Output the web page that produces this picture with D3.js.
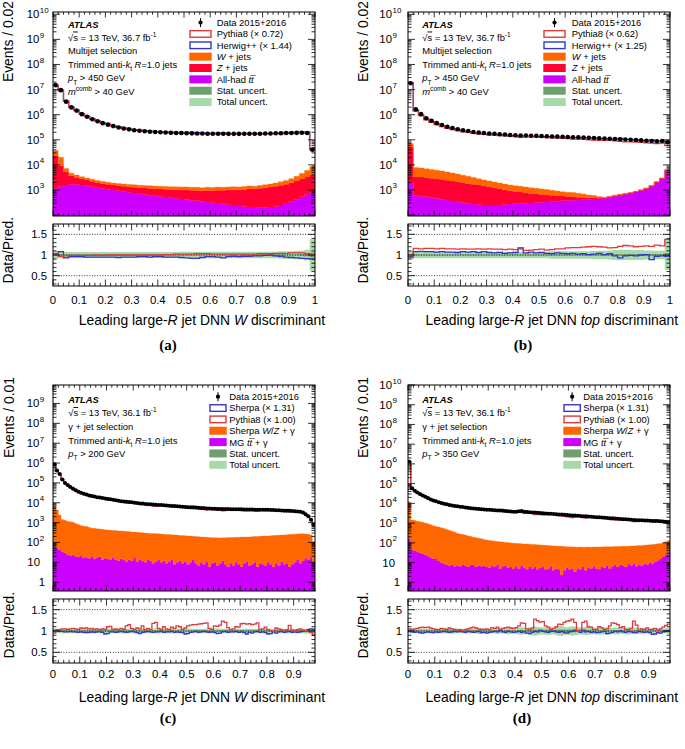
<!DOCTYPE html>
<html><head><meta charset="utf-8">
<script src="https://cdn.jsdelivr.net/npm/d3@7"></script>
<style>body{margin:0;background:#fff}svg{display:block}</style>
</head><body><script>
// ---------------- DATA ----------------
const ratioTicks = [0.5, 1, 1.5];
const xTicksAB = [0,0.1,0.2,0.3,0.4,0.5,0.6,0.7,0.8,0.9,1];
const xTicksCD = [0,0.1,0.2,0.3,0.4,0.5,0.6,0.7,0.8,0.9];

// (a) W discriminant, multijet, 50 bins of 0.02
const aData = [1.5e7,9.5e6,3.3e6,1.95e6,1.45e6,1.05e6,8.3e5,6.6e5,5.5e5,4.6e5,4.0e5,3.5e5,3.1e5,2.8e5,2.6e5,2.4e5,2.3e5,2.2e5,2.1e5,2.05e5,2.0e5,1.95e5,1.9e5,1.86e5,1.85e5,1.82e5,1.8e5,1.78e5,1.77e5,1.75e5,1.74e5,1.73e5,1.73e5,1.72e5,1.72e5,1.72e5,1.73e5,1.73e5,1.74e5,1.75e5,1.77e5,1.79e5,1.81e5,1.83e5,1.85e5,1.87e5,1.89e5,1.9e5,1.86e5,4.0e4];
const aTtbar = [1120,1410,1580,1700,1660,1580,1480,1350,1260,1150,1070,1000,930,870,810,760,710,660,620,590,550,520,490,470,440,420,390,370,350,330,310,300,280,260,250,230,220,210,210,200,200,210,220,250,300,350,430,540,680,790];
const aZjets = [21300,7920,3670,2020,1500,1240,1030,890,740,670,630,580,550,540,540,530,520,540,530,530,550,550,560,550,560,580,590,580,580,620,640,680,700,740,770,790,830,890,910,970,1030,1110,1190,1300,1400,1600,1860,2210,2630,3380];
const aWjets = [14800,10600,1990,960,820,570,510,450,400,370,340,330,340,330,310,330,320,310,330,330,310,310,300,330,320,320,310,340,300,340,310,340,310,320,330,300,330,350,290,340,390,420,500,590,700,870,1260,1820,2720,4340];
const aPythiaRatio = [1.03,0.97,0.98,0.99,0.99,0.99,0.99,0.99,1.0,0.99,1.0,1.0,1.0,1.0,1.0,1.0,1.0,1.0,1.0,1.0,1.0,1.01,1.01,1.02,1.02,1.02,1.02,1.03,1.03,1.03,1.02,1.02,1.02,1.02,1.02,1.02,1.02,1.02,1.02,1.03,1.03,1.03,1.04,1.04,1.04,1.05,1.05,1.05,1.03,1.0];
const aHerwigRatio = [1.02,1.08,0.93,0.96,0.96,0.96,0.95,0.95,0.95,0.95,0.95,0.95,0.94,0.95,0.95,0.95,0.96,0.96,0.95,0.96,0.96,0.95,0.95,0.95,0.94,0.93,0.92,0.92,0.94,0.96,0.96,0.95,0.93,0.96,0.97,0.96,0.97,0.97,0.98,0.98,0.99,1.0,0.98,0.97,0.95,0.94,0.93,0.92,0.91,0.9];
const aTotUnc = [0.1,0.08,0.07,0.07,0.07,0.07,0.07,0.07,0.07,0.07,0.07,0.07,0.07,0.07,0.07,0.07,0.07,0.07,0.07,0.07,0.07,0.07,0.07,0.07,0.08,0.08,0.08,0.08,0.08,0.08,0.08,0.08,0.08,0.08,0.08,0.08,0.08,0.08,0.08,0.08,0.08,0.08,0.08,0.09,0.09,0.09,0.1,0.1,0.13,0.38];
const aStatUnc = [0.01,0.01,0.01,0.01,0.01,0.01,0.01,0.01,0.01,0.01,0.01,0.01,0.01,0.01,0.01,0.01,0.01,0.01,0.01,0.01,0.01,0.01,0.01,0.01,0.01,0.01,0.01,0.01,0.01,0.01,0.01,0.01,0.01,0.01,0.01,0.01,0.01,0.01,0.01,0.01,0.01,0.01,0.01,0.01,0.01,0.01,0.01,0.02,0.03,0.06];

// (b) top discriminant, multijet, 50 bins of 0.02
const bData = [1.78e7,1.62e6,1.05e6,7.2e5,5.75e5,4.6e5,3.9e5,3.3e5,2.95e5,2.63e5,2.4e5,2.24e5,2.04e5,1.95e5,1.86e5,1.78e5,1.74e5,1.66e5,1.62e5,1.55e5,1.51e5,1.48e5,1.47e5,1.45e5,1.44e5,1.41e5,1.38e5,1.35e5,1.34e5,1.32e5,1.29e5,1.26e5,1.25e5,1.23e5,1.2e5,1.18e5,1.15e5,1.13e5,1.1e5,1.07e5,1.05e5,1.02e5,1.0e5,9.8e4,9.5e4,9.1e4,8.9e4,8.7e4,8.9e4,8.0e4];
const bTtbar = [2000,589,562,537,513,468,427,398,363,339,316,295,275,263,251,251,251,251,263,275,282,288,295,302,309,324,331,347,355,372,380,389,398,407,427,437,447,468,513,562,617,676,741,832,955,1122,1413,1995,2818,6026];
const bZjets = [48100,2800,2750,2620,2440,2280,2200,2050,1930,1800,1680,1530,1430,1320,1200,1070,950,850,760,660,590,540,480,420,380,340,300,270,234,203,170,148,115,94,63,42,32,22,24,27,29,32,35,39,45,53,66,94,133,140];
const bWjets = [20700,4550,4280,3920,3660,3420,3120,2800,2500,2230,1890,1730,1460,1240,1060,970,890,810,720,650,610,580,544,506,478,439,419,360,323,276,263,257,228,191,141,124,71,23,25,42,30,33,18,20,23,27,35,99,69,441];
const bPythiaRatio = [0.94,1.16,1.15,1.16,1.16,1.15,1.16,1.15,1.15,1.14,1.15,1.14,1.14,1.15,1.14,1.15,1.14,1.14,1.13,1.14,1.13,1.18,1.11,1.12,1.13,1.14,1.12,1.13,1.15,1.15,1.17,1.18,1.18,1.19,1.20,1.21,1.20,1.19,1.17,1.18,1.21,1.23,1.22,1.20,1.21,1.22,1.21,1.24,1.22,1.38];
const bHerwigRatio = [0.96,1.08,1.09,1.08,1.08,1.07,1.08,1.07,1.07,1.06,1.08,1.07,1.08,1.06,1.08,1.06,1.05,1.06,1.04,1.05,1.06,1.15,1.05,1.07,1.05,1.06,1.04,1.03,1.05,1.04,1.03,1.04,1.02,1.03,1.01,1.02,1.04,1.01,1.03,0.98,0.93,0.98,0.99,0.98,1.00,1.01,0.89,0.97,0.98,0.97];
const bTotUnc = [0.1,0.08,0.08,0.08,0.08,0.08,0.08,0.08,0.08,0.08,0.08,0.08,0.08,0.08,0.08,0.08,0.08,0.08,0.08,0.08,0.08,0.08,0.08,0.08,0.08,0.08,0.08,0.09,0.09,0.09,0.09,0.09,0.09,0.09,0.09,0.1,0.1,0.1,0.11,0.12,0.13,0.12,0.12,0.12,0.12,0.11,0.11,0.1,0.1,0.36];
const bStatUnc = [0.01,0.01,0.01,0.01,0.01,0.01,0.01,0.01,0.01,0.01,0.01,0.01,0.01,0.01,0.01,0.01,0.01,0.01,0.01,0.01,0.01,0.01,0.01,0.01,0.01,0.01,0.01,0.01,0.01,0.01,0.01,0.01,0.01,0.01,0.01,0.01,0.01,0.01,0.01,0.01,0.01,0.01,0.01,0.01,0.01,0.01,0.02,0.02,0.02,0.05];

// (c) W discriminant, gamma+jet, 98 bins of 0.01
const cData = [8.7e5,4.2e5,2.8e5,1.5e5,1.0e5,7.8e4,6.2e4,5.0e4,4.3e4,3.6e4,
 3.2e4,2.8e4,2.6e4,2.35e4,2.2e4,2.05e4,1.9e4,1.82e4,1.74e4,1.66e4,
 1.55e4,1.48e4,1.41e4,1.32e4,1.26e4,1.2e4,1.17e4,1.12e4,1.1e4,1.05e4,
 1.0e4,9800,9300,9100,8700,8500,8300,8100,7900,7800,
 7600,7400,7200,7100,6900,6800,6600,6500,6300,6200,
 6000,5900,5900,5800,5600,5500,5400,5200,5100,5000,
 5000,4900,4900,4800,4800,4800,4700,4700,4700,4700,
 4700,4600,4600,4600,4600,4500,4500,4500,4400,4400,
 4400,4300,4300,4200,4200,4100,4000,4000,3900,3800,
 3700,3600,3500,3200,2600,2100,1400,760];
const cVgamma = [6550,4310,2360,1380,1290,1120,1070,1020,870,775,
 700,645,610,560,505,510,475,460,445,420,
 410,405,380,385,370,365,350,345,340,325,
 315,320,305,295,290,280,275,275,265,260,
 255,250,240,240,230,230,225,215,215,210,
 205,200,190,190,188,180,178,170,172,165,
 164,167,161,162,166,172,169,171,172,174,
 180,177,180,184,187,190,194,195,201,207,
 204,211,218,220,227,229,232,236,245,249,
 253,255,266,263,253,250,222,101];
const cTtgamma = [65,55,42,35,30,25,22,24,20,19,
 21,17,18,16,20,15,17,19,14,16,
 15,13,17,14,12,15,13,11,14,12,
 18,11,13,12,10,14,12,9,11,13,
 10,12,9,11,14,8,10,12,9,11,
 8,10,13,9,7,10,8,11,6,9,
 10,7,9,12,8,6,9,7,10,8,
 6,9,11,7,8,10,6,9,8,7,
 10,8,6,9,7,11,8,9,6,8,
 10,14,9,12,16,13,18,11];
const cSherpaRatio = [1.00,1.01,0.99,0.99,0.98,0.98,0.99,0.98,0.98,0.97,
 0.98,0.97,0.96,0.97,0.98,0.97,0.98,0.98,0.97,0.93,
 0.94,0.98,0.98,0.97,0.98,0.99,0.98,0.97,0.98,0.99,
 0.98,0.96,0.94,0.97,0.98,0.99,0.98,0.97,0.98,0.98,
 0.99,0.97,0.98,0.98,0.99,0.97,0.98,0.97,0.96,0.93,
 0.94,0.97,0.98,0.99,0.97,0.98,0.99,0.98,0.97,0.98,
 0.97,0.94,0.95,0.98,0.99,0.97,0.98,0.98,0.99,0.97,
 0.98,0.96,0.93,0.97,0.95,0.98,0.99,0.97,0.98,0.96,
 0.93,0.94,0.98,0.95,0.98,0.99,0.97,0.98,0.99,0.97,
 0.98,0.97,0.98,0.99,1.01,1.03,1.05,1.03];
const cPythiaRatio = [0.95,1.03,1.03,1.05,1.05,1.04,1.05,1.06,1.05,1.04,
 1.07,1.06,1.07,1.05,1.06,1.04,1.05,1.03,1.05,1.04,
 1.10,1.11,1.04,1.05,1.03,1.06,1.04,1.12,1.15,1.06,
 1.04,1.07,1.05,1.12,1.03,1.06,1.04,1.18,1.20,1.06,
 1.04,1.10,1.05,1.03,1.09,1.06,1.12,1.10,1.04,1.07,
 1.12,1.14,1.15,1.15,1.16,1.17,1.18,1.19,1.06,1.04,
 1.12,1.11,1.14,1.23,1.20,1.08,1.03,1.05,1.10,1.09,
 1.17,1.18,1.16,1.17,1.15,1.16,1.19,1.04,1.05,1.09,
 1.03,1.01,0.99,1.07,1.05,1.03,1.00,1.03,1.13,1.02,
 1.00,1.03,1.05,1.02,1.01,0.99,0.97,0.90];
const cTotUnc = [0.06,0.05,0.05,0.05,0.05,0.05,0.05,0.05,0.05,0.05,
 0.05,0.05,0.06,0.06,0.06,0.05,0.05,0.05,0.05,0.06,
 0.06,0.05,0.05,0.05,0.05,0.05,0.06,0.05,0.05,0.05,
 0.05,0.06,0.06,0.05,0.05,0.05,0.05,0.05,0.06,0.05,
 0.05,0.05,0.05,0.05,0.06,0.05,0.05,0.05,0.05,0.06,
 0.06,0.05,0.05,0.05,0.05,0.05,0.05,0.05,0.05,0.05,
 0.06,0.06,0.05,0.05,0.05,0.05,0.05,0.05,0.05,0.05,
 0.05,0.05,0.06,0.05,0.05,0.05,0.05,0.05,0.05,0.06,
 0.06,0.05,0.05,0.05,0.05,0.05,0.05,0.05,0.05,0.05,
 0.05,0.05,0.05,0.05,0.06,0.06,0.07,0.08];
const cStatUnc = [0.02,0.02,0.02,0.02,0.02,0.02,0.02,0.02,0.02,0.02,
 0.02,0.02,0.02,0.02,0.02,0.02,0.02,0.02,0.02,0.02,
 0.02,0.02,0.02,0.02,0.02,0.02,0.02,0.02,0.02,0.02,
 0.02,0.02,0.02,0.02,0.02,0.02,0.02,0.02,0.02,0.02,
 0.02,0.02,0.02,0.02,0.02,0.02,0.02,0.02,0.02,0.02,
 0.02,0.02,0.02,0.02,0.02,0.02,0.02,0.02,0.02,0.02,
 0.02,0.02,0.02,0.02,0.02,0.02,0.02,0.02,0.02,0.02,
 0.02,0.02,0.02,0.02,0.02,0.02,0.02,0.02,0.02,0.02,
 0.02,0.02,0.02,0.02,0.02,0.02,0.02,0.02,0.02,0.02,
 0.02,0.02,0.02,0.02,0.02,0.03,0.03,0.04];

// (d) top discriminant, gamma+jet, 98 bins of 0.01
const dData = [1.3e6,5.8e4,4.4e4,3.5e4,2.95e4,2.5e4,2.15e4,1.86e4,1.58e4,1.38e4,
 1.26e4,1.15e4,1.05e4,9550,8900,8300,7800,7400,7100,6800,
 6500,6200,5900,5600,5500,5400,5200,5000,4900,4800,
 4700,4600,4500,4400,4300,4200,4100,4000,3900,3800,
 3800,4000,4100,3800,3600,3550,3450,3400,3300,3250,
 3150,3100,3000,2950,2900,2800,2750,2700,2650,2550,
 2500,2450,2400,2350,2300,2250,2200,2150,2100,2050,
 2000,1950,1900,1860,1820,1780,1740,1700,1660,1620,
 1580,1550,1510,1480,1450,1410,1410,1380,1350,1350,
 1320,1290,1290,1260,1230,1200,1170,1150];
const dVgamma = [11860,1370,1310,1220,1145,1070,975,890,795,708,
 661,619,565,516,460,420,372,340,302,275,
 255,238,218,201,183,176,163,152,141,132,
 126,119,114,109,107,103,98,97,92,90,
 87,86,82,82,83,79,78,75,75,72,
 70,70,67,64,65,63,62,64,61,58,
 58,57,58,55,56,54,56,55,55,54,
 57,57,56,58,56,58,57,57,59,57,
 59,60,59,61,60,64,64,67,67,70,
 69,73,74,76,78,80,86,100];
const dTtgamma = [165,43,40,35,30,28,25,22,18,16,
 15,12,10,9,7.5,7,8,6.5,7,6.5,
 8,7,6,7.5,8,6,7,6.5,7,6,
 5.5,7,6,8,5,6.5,7,5.5,6,5,
 6.5,5,7,5.5,4.5,6,5,6,4.5,5.5,
 6,4.5,5,6.5,4,5,4.5,2.3,4,5.5,
 4.5,5,3.5,5,4.5,6,4,5.5,5,6.5,
 5,4.5,6,5.5,7,5,6.5,7.5,6,8,
 7,6,8.5,7,9,6.5,8,7,9,8,
 10,8.5,11,13,15,20,26,32];
const dSherpaRatio = [1.00,0.98,0.97,0.98,0.96,0.95,0.97,0.98,0.97,0.96,
 0.98,0.97,0.98,0.99,0.98,0.97,0.98,0.99,0.98,0.99,
 0.98,0.97,0.99,0.98,0.97,0.98,0.99,0.96,0.97,0.95,
 0.97,0.98,0.99,0.98,1.02,0.98,0.97,0.99,0.98,0.97,
 0.98,0.99,0.97,0.98,0.95,0.94,0.97,0.99,0.98,1.02,
 0.99,0.98,0.97,0.99,1.00,0.98,0.97,0.99,0.96,0.95,
 0.98,0.99,1.02,0.99,0.97,1.02,0.98,0.99,0.97,0.98,
 0.96,0.97,0.98,0.99,0.94,0.95,0.97,0.99,0.98,1.00,
 0.98,0.97,0.99,0.98,0.96,0.97,0.99,0.98,0.97,0.98,
 0.96,0.92,0.93,0.96,0.95,0.98,1.00,0.99];
const dPythiaRatio = [1.05,1.04,1.05,1.06,1.08,1.09,1.08,1.09,1.07,1.05,
 1.04,1.03,1.06,1.05,1.04,1.07,1.05,1.04,1.02,1.03,
 1.01,1.03,1.05,1.07,1.09,1.07,1.05,1.03,1.04,1.05,
 1.03,1.08,1.06,1.09,1.04,1.06,1.08,1.09,1.07,1.06,
 1.08,1.12,1.19,1.18,1.05,1.04,1.06,1.28,1.24,1.21,
 1.22,1.12,1.09,1.04,1.06,1.10,1.16,1.15,1.20,1.23,
 1.24,1.28,1.20,0.99,1.02,1.20,1.23,1.10,1.09,1.04,
 1.03,1.10,1.08,1.04,1.05,1.12,1.19,1.18,1.15,1.08,
 1.10,1.04,1.03,1.06,1.23,1.14,1.02,1.05,1.04,1.07,
 1.03,1.04,1.06,1.02,1.05,1.09,1.13,1.16];
const dTotUnc = [0.06,0.05,0.05,0.05,0.06,0.06,0.05,0.05,0.05,0.06,
 0.06,0.05,0.05,0.05,0.06,0.06,0.07,0.06,0.05,0.05,
 0.05,0.06,0.06,0.05,0.05,0.06,0.07,0.07,0.06,0.05,
 0.05,0.05,0.06,0.07,0.06,0.06,0.07,0.08,0.07,0.06,
 0.07,0.08,0.09,0.08,0.07,0.09,0.1,0.11,0.1,0.09,
 0.08,0.09,0.1,0.09,0.08,0.1,0.11,0.12,0.1,0.09,
 0.1,0.11,0.1,0.09,0.08,0.09,0.1,0.09,0.08,0.08,
 0.08,0.09,0.08,0.08,0.09,0.08,0.07,0.08,0.08,0.07,
 0.07,0.08,0.08,0.07,0.07,0.08,0.07,0.07,0.06,0.06,
 0.06,0.07,0.06,0.06,0.06,0.06,0.06,0.07];
const dStatUnc = [0.02,0.02,0.02,0.02,0.02,0.02,0.02,0.02,0.02,0.02,
 0.02,0.02,0.02,0.02,0.02,0.02,0.02,0.02,0.02,0.02,
 0.02,0.02,0.02,0.02,0.02,0.02,0.02,0.02,0.02,0.02,
 0.02,0.02,0.02,0.02,0.02,0.02,0.02,0.02,0.02,0.02,
 0.02,0.02,0.03,0.02,0.02,0.03,0.03,0.03,0.03,0.02,
 0.02,0.03,0.03,0.03,0.02,0.03,0.03,0.03,0.03,0.03,
 0.03,0.03,0.03,0.02,0.02,0.03,0.03,0.02,0.02,0.02,
 0.02,0.02,0.02,0.02,0.03,0.02,0.02,0.02,0.02,0.02,
 0.02,0.02,0.02,0.02,0.02,0.02,0.02,0.02,0.02,0.02,
 0.02,0.02,0.02,0.02,0.02,0.02,0.03,0.03];

// ---------------- DRAWING ----------------
const FONT = '"Liberation Sans", Arial, Helvetica, sans-serif';
const COL = {W:'#ff6600', Z:'#ff0033', tt:'#cc00ff', red:'#e0393c', blue:'#3535c8', stat:'#6f9f6f', tot:'#a8d9a8'};
const svg = d3.select('body').append('svg').attr('width',685).attr('height',749).style('font-family',FONT);
const defs = svg.append('defs');

function rich(g, x, y, parts, size, anchor){
  const t = g.append('text').attr('x',x).attr('y',y).attr('font-size',size).attr('text-anchor',anchor||'start').attr('fill','#000');
  let shift = 0;
  parts.forEach(p=>{
    if(typeof p === 'string') p = {t:p};
    const target = p.sub ? size*0.38 : (p.sup ? -size*0.42 : 0);
    const ts = t.append('tspan').text(p.t).attr('dy', (target-shift).toFixed(2));
    shift = target;
    if(p.sub || p.sup) ts.attr('font-size', (size*0.7).toFixed(2));
    if(p.i) ts.attr('font-style','italic');
    if(p.b) ts.attr('font-weight','bold');
    if(p.over) ts.attr('text-decoration','overline');
  });
  return t;
}

function drawPanel(P){
  const g = svg.append('g');
  const nb = P.data.length, bw = P.xMax/nb;
  const x = d3.scaleLinear().domain([0,P.xMax]).range([P.x0,P.x1]);
  const y = d3.scaleLog().domain(P.yDom).range([P.my1,P.my0]);
  const yr = d3.scaleLinear().domain([0.25,1.75]).range([P.ry1,P.ry0]);
  const ymin = P.yDom[0];
  defs.append('clipPath').attr('id','cm'+P.id).append('rect')
    .attr('x',P.x0).attr('y',P.my0).attr('width',P.x1-P.x0).attr('height',P.my1-P.my0);
  defs.append('clipPath').attr('id','cr'+P.id).append('rect')
    .attr('x',P.x0).attr('y',P.ry0).attr('width',P.x1-P.x0).attr('height',P.ry1-P.ry0);
  const gm = g.append('g').attr('clip-path',`url(#cm${P.id})`);
  const gr = g.append('g').attr('clip-path',`url(#cr${P.id})`);

  // stacked backgrounds
  const rows = d3.range(nb).map(i=>{const o={}; P.stack.forEach(s=>o[s.key]=s.values[i]); return o;});
  const series = d3.stack().keys(P.stack.map(s=>s.key))(rows);
  const area = d3.area().x(d=>d.x).y0(d=>d.y0).y1(d=>d.y1).curve(d3.curveStepAfter);
  series.forEach((s,k)=>{
    const pts = s.map((d,i)=>({x:x(i*bw), y0:y(Math.max(d[0],ymin)), y1:y(Math.max(d[1],ymin))}));
    pts.push(Object.assign({}, pts[nb-1], {x:x(nb*bw)}));
    gm.append('path').attr('d',area(pts)).attr('fill',P.stack[k].color).attr('stroke',P.stack[k].color).attr('stroke-width',0.3);
  });
  // MC predictions = data / (data/MC)
  const line = d3.line().x(d=>d.x).y(d=>d.y).curve(d3.curveStepAfter);
  P.mc.forEach(m=>{
    const pts = P.data.map((v,i)=>({x:x(i*bw), y:y(v/m.ratio[i])}));
    pts.push({x:x(nb*bw), y:pts[nb-1].y});
    gm.append('path').attr('d',line(pts)).attr('fill','none').attr('stroke',m.color).attr('stroke-width',1.3);
  });
  // data
  gm.selectAll(null).data(P.data).join('circle')
    .attr('cx',(d,i)=>x((i+0.5)*bw)).attr('cy',d=>y(d)).attr('r',P.r).attr('fill','#000');

  // ratio panel
  const bandPts = (u)=>{const p = P.data.map((v,i)=>({x:x(i*bw), y0:yr(1-u[i]), y1:yr(1+u[i])})); p.push(Object.assign({},p[nb-1],{x:x(nb*bw)})); return p;};
  gr.append('path').attr('d',area(bandPts(P.totUnc))).attr('fill',COL.tot);
  gr.append('path').attr('d',area(bandPts(P.statUnc))).attr('fill',COL.stat);
  ratioTicks.forEach(v=>{
    gr.append('line').attr('x1',P.x0).attr('x2',P.x1).attr('y1',yr(v)).attr('y2',yr(v))
      .attr('stroke','#000').attr('stroke-width',0.8).attr('stroke-dasharray','1,1.6');
  });
  P.mc.forEach(m=>{
    const pts = m.ratio.map((v,i)=>({x:x(i*bw), y:yr(v)}));
    pts.push({x:x(nb*bw), y:pts[nb-1].y});
    gr.append('path').attr('d',line(pts)).attr('fill','none').attr('stroke',m.color).attr('stroke-width',1.3);
  });

  // frames
  [[P.my0,P.my1],[P.ry0,P.ry1]].forEach(([a,b])=>{
    g.append('rect').attr('x',P.x0).attr('y',a).attr('width',P.x1-P.x0).attr('height',b-a)
      .attr('fill','none').attr('stroke','#000').attr('stroke-width',1);
  });
  // ticks
  let d = '';
  const nMinor = Math.round(P.xMax/0.02);
  for(let i=0;i<=nMinor;i++){
    const xv = x(i*0.02), maj = (i%5===0);
    const lm = maj?5.5:2.8, lr = maj?6.5:3.2;
    d += `M${xv},${P.my1}v${-lm}M${xv},${P.my0}v${lm}`;
    d += `M${xv},${P.ry1}v${-lr}M${xv},${P.ry0}v${lr}`;
  }
  const lo = Math.floor(Math.log10(P.yDom[0])), hi = Math.ceil(Math.log10(P.yDom[1]));
  for(let e=lo;e<=hi;e++){
    for(let k=1;k<=9;k++){
      const v = k*Math.pow(10,e);
      if(v<P.yDom[0]||v>P.yDom[1]) continue;
      const len = k===1?7:3.5, yy = y(v);
      d += `M${P.x0},${yy}h${len}M${P.x1},${yy}h${-len}`;
    }
  }
  for(let i=3;i<=17;i++){
    const v = i/10, yy = yr(v), len = (i%5===0)?7:3.5;
    d += `M${P.x0},${yy}h${len}M${P.x1},${yy}h${-len}`;
  }
  g.append('path').attr('d',d).attr('stroke','#000').attr('stroke-width',0.8).attr('fill','none');

  // y labels main
  const fs = 11.4;
  for(let e=Math.ceil(Math.log10(P.yDom[0])); e<=Math.floor(Math.log10(P.yDom[1])); e++){
    const v = Math.pow(10,e), yy = y(v);
    if(yy > P.my1-3) continue;
    if(e===0){ g.append('text').attr('x',P.x0-8).attr('y',yy+4).attr('font-size',fs).attr('text-anchor','end').text('1'); }
    else if(e===1){ g.append('text').attr('x',P.x0-13).attr('y',yy+4).attr('font-size',fs).attr('text-anchor','end').text('10'); }
    else {
      g.append('text').attr('x',P.x0-P.lblOff).attr('y',yy+4).attr('font-size',fs).attr('text-anchor','end').text('10');
      g.append('text').attr('x',P.x0-P.lblOff+0.5).attr('y',yy-1.5).attr('font-size',8).attr('text-anchor','start').text(String(e));
    }
  }
  ratioTicks.forEach(v=>{
    g.append('text').attr('x',P.x0-6).attr('y',yr(v)+4).attr('font-size',fs).attr('text-anchor','end').text(String(v));
  });
  P.xTicks.forEach(v=>{
    g.append('text').attr('x',x(v)).attr('y',P.xLblY).attr('font-size',fs).attr('text-anchor','middle').text(String(v));
  });

  // axis titles
  rich(g, P.x1+P.xTitleOff, P.xTitleY, ['Leading large-',{t:'R',i:1},' jet DNN ',{t:P.disc,i:1},' discriminant'], 13.9, 'end');
  g.append('text').attr('transform',`translate(${P.yTitleX},${P.my0-P.yTitleGap}) rotate(-90)`)
    .attr('font-size',13.9).attr('text-anchor','end').text(P.yTitle);
  g.append('text').attr('transform',`translate(${P.yTitleX},${P.ry0-7}) rotate(-90)`)
    .attr('font-size',13.9).attr('text-anchor','end').text('Data/Pred.');
  // caption
  g.append('text').attr('x',P.capX).attr('y',P.capY).attr('font-size',15).attr('font-weight','bold')
    .attr('font-family','"Liberation Serif","Times New Roman",serif').attr('text-anchor','middle').text(P.caption);

  // annotation
  P.notes.forEach((parts,k)=>{ rich(g, P.noteX, P.noteY[k], parts, 9.4); });
  // legend
  const L = P.legend;
  L.items.forEach((it,k)=>{
    const cy = L.y + k*11.35;
    if(it.type==='data'){
      g.append('line').attr('x1',L.bx+L.bw/2).attr('x2',L.bx+L.bw/2).attr('y1',cy-4.5).attr('y2',cy+4.5).attr('stroke','#000').attr('stroke-width',1);
      g.append('circle').attr('cx',L.bx+L.bw/2).attr('cy',cy).attr('r',2.1).attr('fill','#000');
    } else if(it.type==='line'){
      g.append('rect').attr('x',L.bx+0.7).attr('y',cy-3.3).attr('width',L.bw-1.4).attr('height',6.6)
        .attr('fill','#fff').attr('stroke',it.color).attr('stroke-width',1.4);
    } else {
      g.append('rect').attr('x',L.bx).attr('y',cy-4).attr('width',L.bw).attr('height',8).attr('fill',it.color);
    }
    rich(g, L.tx, cy+3.4, it.label, 9.4);
  });
}

const ttbarLbl = {t:'tt\u0305', i:1};
const notesMJ = [
  [{t:'ATLAS', b:1, i:1}],
  ['\u221A',{t:'s',over:1},' = 13 TeV, 36.7 fb',{t:'-1',sup:1}],
  ['Multijet selection'],
  ['Trimmed anti-',{t:'k',i:1},{t:'t',sub:1},' ',{t:'R',i:1},'=1.0 jets'],
  [{t:'p',i:1},{t:'T',sub:1},' > 450 GeV'],
  [{t:'m',i:1},{t:'comb',sup:1},' > 40 GeV']
];
const notesGJ = (pt)=>[
  [{t:'ATLAS', b:1, i:1}],
  ['\u221A',{t:'s',over:1},' = 13 TeV, 36.1 fb',{t:'-1',sup:1}],
  ['\u03B3 + jet selection'],
  ['Trimmed anti-',{t:'k',i:1},{t:'t',sub:1},' ',{t:'R',i:1},'=1.0 jets'],
  [{t:'p',i:1},{t:'T',sub:1},' > '+pt+' GeV']
];
const legMJ = (py,hw)=>[
  {type:'data', label:['Data 2015+2016']},
  {type:'line', color:COL.red, label:['Pythia8 (\u00D7 '+py+')']},
  {type:'line', color:COL.blue, label:['Herwig++ (\u00D7 '+hw+')']},
  {type:'fill', color:COL.W, label:[{t:'W',i:1},' + jets']},
  {type:'fill', color:COL.Z, label:[{t:'Z',i:1},' + jets']},
  {type:'fill', color:COL.tt, label:['All-had ', ttbarLbl]},
  {type:'fill', color:COL.stat, label:['Stat. uncert.']},
  {type:'fill', color:COL.tot, label:['Total uncert.']}
];
const legGJ = [
  {type:'data', label:['Data 2015+2016']},
  {type:'line', color:COL.blue, label:['Sherpa (\u00D7 1.31)']},
  {type:'line', color:COL.red, label:['Pythia8 (\u00D7 1.00)']},
  {type:'fill', color:COL.W, label:['Sherpa ',{t:'W',i:1},'/',{t:'Z',i:1},' + \u03B3']},
  {type:'fill', color:COL.tt, label:['MG ', ttbarLbl, ' + \u03B3']},
  {type:'fill', color:COL.stat, label:['Stat. uncert.']},
  {type:'fill', color:COL.tot, label:['Total uncert.']}
];

const topAB = {my0:12, my1:216, ry0:224, ry1:286, xMax:1, yDom:[92,1.23e10], xTicks:xTicksAB, xLblY:304, xTitleY:325, yTitle:'Events / 0.02', yTitleGap:11, capY:350, r:2.3, noteY:[27.5,40.5,54,67.5,81,94.5]};
const botCD = {my0:385, my1:591, ry0:599, ry1:663, xMax:0.98, xTicks:xTicksCD, xLblY:678, xTitleY:702, yTitle:'Events / 0.01', yTitleGap:8, capY:723, r:2.0, noteY:[402.7,416,429.5,443.5,456.5]};

drawPanel(Object.assign({}, topAB, {id:'a', x0:53, x1:315, lblOff:13.7, xTitleOff:10, yTitleX:13.3, capX:168, caption:'(a)', disc:'W',
  data:aData,
  stack:[{key:'tt',values:aTtbar,color:COL.tt},{key:'Z',values:aZjets,color:COL.Z},{key:'W',values:aWjets,color:COL.W}],
  mc:[{ratio:aHerwigRatio,color:COL.blue},{ratio:aPythiaRatio,color:COL.red}],
  totUnc:aTotUnc, statUnc:aStatUnc, noteX:68, notes:notesMJ,
  legend:{bx:189.3, bw:22.4, tx:216.7, y:22.6, items:legMJ('0.72','1.44')}}));

drawPanel(Object.assign({}, topAB, {id:'b', x0:408, x1:670, lblOff:16, xTitleOff:8, yTitleX:367.5, capX:523, caption:'(b)', disc:'top',
  data:bData,
  stack:[{key:'tt',values:bTtbar,color:COL.tt},{key:'Z',values:bZjets,color:COL.Z},{key:'W',values:bWjets,color:COL.W}],
  mc:[{ratio:bHerwigRatio,color:COL.blue},{ratio:bPythiaRatio,color:COL.red}],
  totUnc:bTotUnc, statUnc:bStatUnc, noteX:422.3, notes:notesMJ,
  legend:{bx:543.3, bw:22.4, tx:571.7, y:22.6, items:legMJ('0.62','1.25')}}));

drawPanel(Object.assign({}, botCD, {id:'c', x0:53, x1:315, yDom:[0.36,8.5e9], lblOff:13.7, xTitleOff:10, yTitleX:13.5, capX:168, caption:'(c)', disc:'W',
  data:cData,
  stack:[{key:'tt',values:cTtgamma,color:COL.tt},{key:'V',values:cVgamma,color:COL.W}],
  mc:[{ratio:cSherpaRatio,color:COL.blue},{ratio:cPythiaRatio,color:COL.red}],
  totUnc:cTotUnc, statUnc:cStatUnc, noteX:68.3, notes:notesGJ('200'),
  legend:{bx:209.3, bw:17.4, tx:229.3, y:396.7, items:legGJ}}));

drawPanel(Object.assign({}, botCD, {id:'d', x0:408, x1:670, yDom:[0.36,1e10], lblOff:16, xTitleOff:8, yTitleX:367.5, capX:522, caption:'(d)', disc:'top',
  data:dData,
  stack:[{key:'tt',values:dTtgamma,color:COL.tt},{key:'V',values:dVgamma,color:COL.W}],
  mc:[{ratio:dSherpaRatio,color:COL.blue},{ratio:dPythiaRatio,color:COL.red}],
  totUnc:dTotUnc, statUnc:dStatUnc, noteX:422.3, notes:notesGJ('350'),
  legend:{bx:563.3, bw:17.7, tx:583.3, y:396.7, items:legGJ}}));
</script></body></html>
